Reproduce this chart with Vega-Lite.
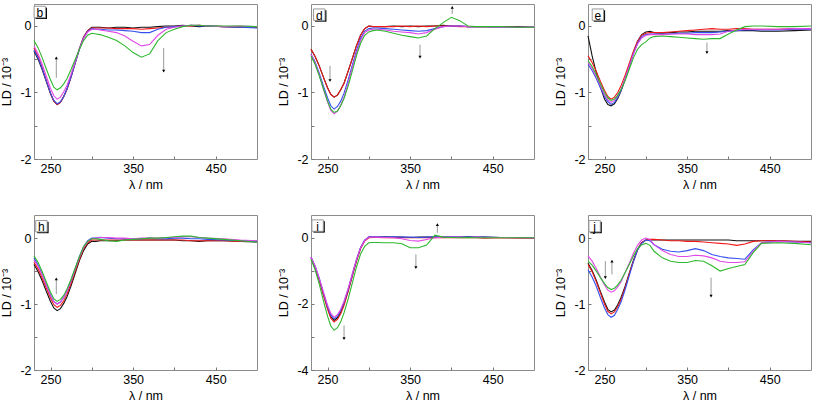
{
"$schema":"https://vega.github.io/schema/vega-lite/v6.json",
"padding":{"left":0,"top":3,"right":2,"bottom":0},
"background":"#ffffff",
"datasets":{
"spectra":[
{"p":"b","x":230,"k":-0.38,"r":-0.33,"u":-0.36,"m":-0.30,"g":-0.22},
{"p":"b","x":235,"k":-0.50,"r":-0.46,"u":-0.48,"m":-0.42,"g":-0.33},
{"p":"b","x":240,"k":-0.66,"r":-0.63,"u":-0.64,"m":-0.58,"g":-0.48},
{"p":"b","x":245,"k":-0.84,"r":-0.82,"u":-0.83,"m":-0.76,"g":-0.65},
{"p":"b","x":250,"k":-1.02,"r":-1.01,"u":-1.01,"m":-0.94,"g":-0.81},
{"p":"b","x":254,"k":-1.13,"r":-1.13,"u":-1.12,"m":-1.05,"g":-0.92},
{"p":"b","x":258,"k":-1.18,"r":-1.18,"u":-1.17,"m":-1.10,"g":-0.96},
{"p":"b","x":262,"k":-1.15,"r":-1.15,"u":-1.14,"m":-1.07,"g":-0.93},
{"p":"b","x":266,"k":-1.06,"r":-1.06,"u":-1.06,"m":-0.99,"g":-0.87},
{"p":"b","x":270,"k":-0.95,"r":-0.95,"u":-0.94,"m":-0.89,"g":-0.79},
{"p":"b","x":275,"k":-0.76,"r":-0.76,"u":-0.76,"m":-0.72,"g":-0.65},
{"p":"b","x":280,"k":-0.55,"r":-0.55,"u":-0.55,"m":-0.53,"g":-0.50},
{"p":"b","x":285,"k":-0.34,"r":-0.34,"u":-0.35,"m":-0.34,"g":-0.35},
{"p":"b","x":290,"k":-0.17,"r":-0.17,"u":-0.18,"m":-0.19,"g":-0.22},
{"p":"b","x":295,"k":-0.07,"r":-0.07,"u":-0.08,"m":-0.09,"g":-0.14},
{"p":"b","x":300,"k":-0.02,"r":-0.03,"u":-0.04,"m":-0.05,"g":-0.11},
{"p":"b","x":305,"k":-0.02,"r":-0.03,"u":-0.05,"m":-0.05,"g":-0.12},
{"p":"b","x":310,"k":-0.02,"r":-0.03,"u":-0.05,"m":-0.06,"g":-0.13},
{"p":"b","x":320,"k":-0.03,"r":-0.03,"u":-0.06,"m":-0.08,"g":-0.17},
{"p":"b","x":330,"k":-0.02,"r":-0.04,"u":-0.06,"m":-0.10,"g":-0.22},
{"p":"b","x":340,"k":-0.02,"r":-0.04,"u":-0.07,"m":-0.15,"g":-0.30},
{"p":"b","x":350,"k":-0.03,"r":-0.04,"u":-0.08,"m":-0.23,"g":-0.40},
{"p":"b","x":360,"k":-0.02,"r":-0.05,"u":-0.10,"m":-0.30,"g":-0.47},
{"p":"b","x":370,"k":-0.02,"r":-0.04,"u":-0.10,"m":-0.28,"g":-0.42},
{"p":"b","x":380,"k":-0.01,"r":-0.03,"u":-0.05,"m":-0.14,"g":-0.22},
{"p":"b","x":390,"k":0.00,"r":-0.02,"u":-0.02,"m":-0.05,"g":-0.10},
{"p":"b","x":400,"k":0.00,"r":-0.01,"u":-0.01,"m":-0.02,"g":-0.05},
{"p":"b","x":410,"k":0.01,"r":0.00,"u":0.00,"m":0.00,"g":-0.01},
{"p":"b","x":420,"k":0.00,"r":0.00,"u":0.01,"m":0.01,"g":0.01},
{"p":"b","x":430,"k":-0.01,"r":0.01,"u":0.00,"m":0.01,"g":0.01},
{"p":"b","x":440,"k":0.00,"r":0.00,"u":0.00,"m":0.00,"g":0.00},
{"p":"b","x":460,"k":-0.01,"r":-0.01,"u":-0.01,"m":-0.01,"g":0.00},
{"p":"b","x":480,"k":-0.02,"r":-0.01,"u":-0.02,"m":0.00,"g":0.00},
{"p":"b","x":500,"k":-0.02,"r":-0.02,"u":-0.03,"m":-0.01,"g":-0.01},

{"p":"d","x":230,"k":-0.35,"r":-0.35,"u":-0.42,"m":-0.43,"g":-0.45},
{"p":"d","x":235,"k":-0.46,"r":-0.46,"u":-0.54,"m":-0.56,"g":-0.58},
{"p":"d","x":240,"k":-0.60,"r":-0.60,"u":-0.71,"m":-0.74,"g":-0.75},
{"p":"d","x":245,"k":-0.77,"r":-0.77,"u":-0.90,"m":-0.95,"g":-0.94},
{"p":"d","x":250,"k":-0.93,"r":-0.93,"u":-1.08,"m":-1.14,"g":-1.13},
{"p":"d","x":254,"k":-1.03,"r":-1.03,"u":-1.20,"m":-1.27,"g":-1.25},
{"p":"d","x":258,"k":-1.07,"r":-1.07,"u":-1.25,"m":-1.32,"g":-1.30},
{"p":"d","x":262,"k":-1.04,"r":-1.04,"u":-1.21,"m":-1.28,"g":-1.28},
{"p":"d","x":266,"k":-0.96,"r":-0.96,"u":-1.13,"m":-1.19,"g":-1.20},
{"p":"d","x":270,"k":-0.86,"r":-0.86,"u":-1.01,"m":-1.07,"g":-1.09},
{"p":"d","x":275,"k":-0.68,"r":-0.68,"u":-0.81,"m":-0.86,"g":-0.90},
{"p":"d","x":280,"k":-0.49,"r":-0.49,"u":-0.59,"m":-0.63,"g":-0.68},
{"p":"d","x":285,"k":-0.30,"r":-0.30,"u":-0.37,"m":-0.41,"g":-0.45},
{"p":"d","x":290,"k":-0.14,"r":-0.14,"u":-0.19,"m":-0.22,"g":-0.26},
{"p":"d","x":295,"k":-0.04,"r":-0.04,"u":-0.08,"m":-0.10,"g":-0.14},
{"p":"d","x":300,"k":0.00,"r":0.00,"u":-0.04,"m":-0.06,"g":-0.09},
{"p":"d","x":305,"k":-0.01,"r":-0.01,"u":-0.03,"m":-0.05,"g":-0.07},
{"p":"d","x":310,"k":-0.01,"r":-0.01,"u":-0.03,"m":-0.05,"g":-0.06},
{"p":"d","x":320,"k":-0.01,"r":-0.01,"u":-0.04,"m":-0.06,"g":-0.08},
{"p":"d","x":330,"k":0.00,"r":-0.01,"u":-0.05,"m":-0.08,"g":-0.11},
{"p":"d","x":340,"k":-0.01,"r":0.00,"u":-0.06,"m":-0.09,"g":-0.14},
{"p":"d","x":350,"k":0.00,"r":-0.01,"u":-0.07,"m":-0.10,"g":-0.16},
{"p":"d","x":360,"k":-0.01,"r":0.00,"u":-0.08,"m":-0.12,"g":-0.18},
{"p":"d","x":370,"k":0.00,"r":-0.01,"u":-0.07,"m":-0.10,"g":-0.15},
{"p":"d","x":380,"k":0.00,"r":0.00,"u":-0.04,"m":-0.05,"g":-0.04},
{"p":"d","x":390,"k":0.01,"r":0.00,"u":-0.01,"m":-0.01,"g":0.05},
{"p":"d","x":400,"k":0.00,"r":0.00,"u":0.00,"m":0.00,"g":0.13},
{"p":"d","x":410,"k":0.00,"r":-0.01,"u":0.00,"m":0.00,"g":0.08},
{"p":"d","x":420,"k":-0.01,"r":-0.01,"u":-0.01,"m":-0.01,"g":0.00},
{"p":"d","x":430,"k":-0.01,"r":-0.01,"u":-0.01,"m":-0.01,"g":-0.01},
{"p":"d","x":440,"k":-0.01,"r":-0.01,"u":-0.01,"m":-0.01,"g":-0.01},
{"p":"d","x":460,"k":-0.01,"r":-0.01,"u":-0.02,"m":-0.02,"g":-0.01},
{"p":"d","x":480,"k":-0.01,"r":-0.02,"u":-0.02,"m":-0.02,"g":-0.02},
{"p":"d","x":500,"k":-0.02,"r":-0.02,"u":-0.02,"m":-0.02,"g":-0.02},

{"p":"e","x":230,"k":-0.15,"r":-0.45,"u":-0.58,"m":-0.55,"g":-0.52},
{"p":"e","x":235,"k":-0.45,"r":-0.55,"u":-0.67,"m":-0.64,"g":-0.61},
{"p":"e","x":240,"k":-0.70,"r":-0.68,"u":-0.79,"m":-0.76,"g":-0.73},
{"p":"e","x":245,"k":-0.92,"r":-0.83,"u":-0.93,"m":-0.90,"g":-0.87},
{"p":"e","x":250,"k":-1.10,"r":-0.97,"u":-1.06,"m":-1.03,"g":-1.00},
{"p":"e","x":254,"k":-1.18,"r":-1.06,"u":-1.14,"m":-1.11,"g":-1.08},
{"p":"e","x":258,"k":-1.20,"r":-1.10,"u":-1.18,"m":-1.15,"g":-1.12},
{"p":"e","x":262,"k":-1.17,"r":-1.07,"u":-1.15,"m":-1.12,"g":-1.10},
{"p":"e","x":266,"k":-1.09,"r":-1.00,"u":-1.07,"m":-1.05,"g":-1.04},
{"p":"e","x":270,"k":-0.98,"r":-0.90,"u":-0.97,"m":-0.95,"g":-0.96},
{"p":"e","x":275,"k":-0.80,"r":-0.74,"u":-0.80,"m":-0.79,"g":-0.82},
{"p":"e","x":280,"k":-0.60,"r":-0.56,"u":-0.61,"m":-0.60,"g":-0.65},
{"p":"e","x":285,"k":-0.40,"r":-0.38,"u":-0.42,"m":-0.42,"g":-0.48},
{"p":"e","x":290,"k":-0.23,"r":-0.23,"u":-0.26,"m":-0.27,"g":-0.35},
{"p":"e","x":295,"k":-0.13,"r":-0.14,"u":-0.16,"m":-0.18,"g":-0.28},
{"p":"e","x":300,"k":-0.09,"r":-0.11,"u":-0.13,"m":-0.14,"g":-0.24},
{"p":"e","x":305,"k":-0.08,"r":-0.10,"u":-0.12,"m":-0.13,"g":-0.18},
{"p":"e","x":310,"k":-0.10,"r":-0.10,"u":-0.12,"m":-0.13,"g":-0.16},
{"p":"e","x":320,"k":-0.11,"r":-0.10,"u":-0.12,"m":-0.13,"g":-0.15},
{"p":"e","x":330,"k":-0.10,"r":-0.09,"u":-0.12,"m":-0.12,"g":-0.16},
{"p":"e","x":340,"k":-0.09,"r":-0.08,"u":-0.11,"m":-0.12,"g":-0.17},
{"p":"e","x":350,"k":-0.09,"r":-0.07,"u":-0.11,"m":-0.12,"g":-0.18},
{"p":"e","x":360,"k":-0.08,"r":-0.06,"u":-0.10,"m":-0.13,"g":-0.19},
{"p":"e","x":370,"k":-0.08,"r":-0.05,"u":-0.10,"m":-0.13,"g":-0.20},
{"p":"e","x":380,"k":-0.08,"r":-0.04,"u":-0.10,"m":-0.13,"g":-0.19},
{"p":"e","x":390,"k":-0.08,"r":-0.05,"u":-0.09,"m":-0.12,"g":-0.19},
{"p":"e","x":400,"k":-0.07,"r":-0.05,"u":-0.08,"m":-0.08,"g":-0.12},
{"p":"e","x":410,"k":-0.07,"r":-0.04,"u":-0.07,"m":-0.06,"g":-0.06},
{"p":"e","x":420,"k":-0.07,"r":-0.04,"u":-0.06,"m":-0.05,"g":-0.01},
{"p":"e","x":430,"k":-0.07,"r":-0.05,"u":-0.06,"m":-0.05,"g":0.00},
{"p":"e","x":440,"k":-0.08,"r":-0.05,"u":-0.06,"m":-0.05,"g":0.00},
{"p":"e","x":460,"k":-0.08,"r":-0.05,"u":-0.06,"m":-0.05,"g":-0.01},
{"p":"e","x":480,"k":-0.07,"r":-0.04,"u":-0.05,"m":-0.04,"g":-0.01},
{"p":"e","x":500,"k":-0.06,"r":-0.04,"u":-0.05,"m":-0.04,"g":0.00},

{"p":"h","x":230,"k":-0.40,"r":-0.37,"u":-0.30,"m":-0.33,"g":-0.27},
{"p":"h","x":235,"k":-0.51,"r":-0.47,"u":-0.41,"m":-0.43,"g":-0.37},
{"p":"h","x":240,"k":-0.65,"r":-0.61,"u":-0.55,"m":-0.56,"g":-0.51},
{"p":"h","x":245,"k":-0.81,"r":-0.76,"u":-0.71,"m":-0.72,"g":-0.67},
{"p":"h","x":250,"k":-0.96,"r":-0.91,"u":-0.86,"m":-0.87,"g":-0.82},
{"p":"h","x":254,"k":-1.06,"r":-1.01,"u":-0.96,"m":-0.96,"g":-0.92},
{"p":"h","x":258,"k":-1.10,"r":-1.05,"u":-1.00,"m":-1.00,"g":-0.96},
{"p":"h","x":262,"k":-1.07,"r":-1.02,"u":-0.97,"m":-0.97,"g":-0.93},
{"p":"h","x":266,"k":-0.99,"r":-0.95,"u":-0.90,"m":-0.90,"g":-0.87},
{"p":"h","x":270,"k":-0.89,"r":-0.85,"u":-0.80,"m":-0.80,"g":-0.77},
{"p":"h","x":275,"k":-0.72,"r":-0.68,"u":-0.64,"m":-0.64,"g":-0.62},
{"p":"h","x":280,"k":-0.53,"r":-0.50,"u":-0.46,"m":-0.46,"g":-0.45},
{"p":"h","x":285,"k":-0.34,"r":-0.32,"u":-0.28,"m":-0.29,"g":-0.28},
{"p":"h","x":290,"k":-0.19,"r":-0.16,"u":-0.13,"m":-0.14,"g":-0.13},
{"p":"h","x":295,"k":-0.09,"r":-0.07,"u":-0.04,"m":-0.05,"g":-0.05},
{"p":"h","x":300,"k":-0.05,"r":-0.03,"u":0.00,"m":-0.01,"g":-0.01},
{"p":"h","x":305,"k":-0.05,"r":-0.03,"u":0.00,"m":0.00,"g":-0.01},
{"p":"h","x":310,"k":-0.04,"r":-0.03,"u":0.01,"m":0.01,"g":-0.02},
{"p":"h","x":320,"k":-0.04,"r":-0.03,"u":0.00,"m":0.01,"g":-0.04},
{"p":"h","x":330,"k":-0.04,"r":-0.03,"u":-0.01,"m":0.00,"g":-0.05},
{"p":"h","x":340,"k":-0.03,"r":-0.03,"u":-0.01,"m":0.00,"g":-0.03},
{"p":"h","x":350,"k":-0.03,"r":-0.03,"u":-0.01,"m":-0.01,"g":-0.02},
{"p":"h","x":360,"k":-0.03,"r":-0.03,"u":-0.01,"m":0.00,"g":-0.01},
{"p":"h","x":370,"k":-0.03,"r":-0.03,"u":0.00,"m":0.00,"g":0.00},
{"p":"h","x":380,"k":-0.03,"r":-0.03,"u":-0.01,"m":0.00,"g":0.00},
{"p":"h","x":390,"k":-0.03,"r":-0.03,"u":-0.01,"m":0.01,"g":0.01},
{"p":"h","x":400,"k":-0.03,"r":-0.03,"u":0.00,"m":0.01,"g":0.02},
{"p":"h","x":410,"k":-0.04,"r":-0.03,"u":0.00,"m":0.02,"g":0.03},
{"p":"h","x":420,"k":-0.04,"r":-0.04,"u":-0.01,"m":0.02,"g":0.03},
{"p":"h","x":430,"k":-0.05,"r":-0.04,"u":-0.01,"m":0.01,"g":0.01},
{"p":"h","x":440,"k":-0.04,"r":-0.04,"u":-0.02,"m":0.00,"g":0.00},
{"p":"h","x":460,"k":-0.04,"r":-0.04,"u":-0.03,"m":-0.01,"g":-0.02},
{"p":"h","x":480,"k":-0.05,"r":-0.05,"u":-0.04,"m":-0.03,"g":-0.04},
{"p":"h","x":500,"k":-0.06,"r":-0.05,"u":-0.05,"m":-0.04,"g":-0.06},

{"p":"i","x":230,"k":-0.60,"r":-0.60,"u":-0.58,"m":-0.58,"g":-0.65},
{"p":"i","x":235,"k":-0.89,"r":-0.89,"u":-0.86,"m":-0.85,"g":-0.97},
{"p":"i","x":240,"k":-1.27,"r":-1.28,"u":-1.23,"m":-1.22,"g":-1.40},
{"p":"i","x":245,"k":-1.70,"r":-1.73,"u":-1.66,"m":-1.64,"g":-1.90},
{"p":"i","x":250,"k":-2.12,"r":-2.16,"u":-2.08,"m":-2.04,"g":-2.37},
{"p":"i","x":254,"k":-2.39,"r":-2.43,"u":-2.34,"m":-2.29,"g":-2.67},
{"p":"i","x":258,"k":-2.50,"r":-2.55,"u":-2.45,"m":-2.40,"g":-2.80},
{"p":"i","x":262,"k":-2.42,"r":-2.47,"u":-2.38,"m":-2.33,"g":-2.72},
{"p":"i","x":266,"k":-2.25,"r":-2.30,"u":-2.20,"m":-2.16,"g":-2.54},
{"p":"i","x":270,"k":-1.99,"r":-2.04,"u":-1.95,"m":-1.92,"g":-2.27},
{"p":"i","x":275,"k":-1.59,"r":-1.63,"u":-1.56,"m":-1.53,"g":-1.85},
{"p":"i","x":280,"k":-1.14,"r":-1.17,"u":-1.11,"m":-1.09,"g":-1.37},
{"p":"i","x":285,"k":-0.69,"r":-0.71,"u":-0.66,"m":-0.66,"g":-0.89},
{"p":"i","x":290,"k":-0.31,"r":-0.33,"u":-0.29,"m":-0.30,"g":-0.49},
{"p":"i","x":295,"k":-0.08,"r":-0.10,"u":-0.07,"m":-0.08,"g":-0.26},
{"p":"i","x":300,"k":0.02,"r":0.00,"u":0.03,"m":0.02,"g":-0.15},
{"p":"i","x":305,"k":0.03,"r":0.01,"u":0.03,"m":0.02,"g":-0.14},
{"p":"i","x":310,"k":0.02,"r":0.01,"u":0.03,"m":0.02,"g":-0.14},
{"p":"i","x":320,"k":0.03,"r":0.00,"u":0.02,"m":0.01,"g":-0.15},
{"p":"i","x":330,"k":0.02,"r":0.01,"u":0.03,"m":0.00,"g":-0.15},
{"p":"i","x":340,"k":0.02,"r":0.00,"u":0.02,"m":-0.03,"g":-0.18},
{"p":"i","x":350,"k":0.01,"r":0.00,"u":0.02,"m":-0.08,"g":-0.30},
{"p":"i","x":360,"k":0.02,"r":0.01,"u":0.01,"m":-0.10,"g":-0.30},
{"p":"i","x":370,"k":0.02,"r":0.00,"u":0.02,"m":-0.05,"g":-0.22},
{"p":"i","x":380,"k":0.02,"r":0.01,"u":0.03,"m":0.00,"g":0.08},
{"p":"i","x":390,"k":0.03,"r":0.00,"u":0.02,"m":0.02,"g":0.02},
{"p":"i","x":400,"k":0.02,"r":0.01,"u":0.03,"m":0.02,"g":0.01},
{"p":"i","x":410,"k":0.02,"r":0.00,"u":0.02,"m":0.02,"g":0.00},
{"p":"i","x":420,"k":0.03,"r":0.01,"u":0.02,"m":0.01,"g":0.01},
{"p":"i","x":430,"k":0.02,"r":0.00,"u":0.02,"m":0.02,"g":0.00},
{"p":"i","x":440,"k":0.02,"r":-0.01,"u":0.02,"m":0.01,"g":0.00},
{"p":"i","x":460,"k":0.01,"r":0.00,"u":0.01,"m":0.01,"g":0.00},
{"p":"i","x":480,"k":0.01,"r":-0.01,"u":0.01,"m":0.00,"g":0.00},
{"p":"i","x":500,"k":0.00,"r":-0.01,"u":0.00,"m":0.00,"g":0.00},

{"p":"j","x":230,"k":-0.38,"r":-0.40,"u":-0.48,"m":-0.27,"g":-0.35},
{"p":"j","x":235,"k":-0.49,"r":-0.51,"u":-0.59,"m":-0.35,"g":-0.41},
{"p":"j","x":240,"k":-0.64,"r":-0.66,"u":-0.73,"m":-0.46,"g":-0.50},
{"p":"j","x":245,"k":-0.81,"r":-0.83,"u":-0.90,"m":-0.59,"g":-0.60},
{"p":"j","x":250,"k":-0.97,"r":-1.00,"u":-1.06,"m":-0.71,"g":-0.69},
{"p":"j","x":254,"k":-1.08,"r":-1.11,"u":-1.16,"m":-0.79,"g":-0.75},
{"p":"j","x":258,"k":-1.12,"r":-1.15,"u":-1.20,"m":-0.82,"g":-0.78},
{"p":"j","x":262,"k":-1.09,"r":-1.12,"u":-1.17,"m":-0.80,"g":-0.76},
{"p":"j","x":266,"k":-1.01,"r":-1.04,"u":-1.08,"m":-0.74,"g":-0.71},
{"p":"j","x":270,"k":-0.90,"r":-0.93,"u":-0.97,"m":-0.66,"g":-0.64},
{"p":"j","x":275,"k":-0.73,"r":-0.75,"u":-0.78,"m":-0.52,"g":-0.52},
{"p":"j","x":280,"k":-0.53,"r":-0.54,"u":-0.57,"m":-0.38,"g":-0.40},
{"p":"j","x":285,"k":-0.34,"r":-0.35,"u":-0.36,"m":-0.23,"g":-0.27},
{"p":"j","x":290,"k":-0.17,"r":-0.18,"u":-0.18,"m":-0.11,"g":-0.16},
{"p":"j","x":295,"k":-0.07,"r":-0.07,"u":-0.08,"m":-0.03,"g":-0.10},
{"p":"j","x":300,"k":-0.03,"r":-0.03,"u":-0.03,"m":0.00,"g":-0.08},
{"p":"j","x":305,"k":-0.03,"r":-0.02,"u":-0.04,"m":-0.02,"g":-0.11},
{"p":"j","x":310,"k":-0.03,"r":-0.02,"u":-0.10,"m":-0.10,"g":-0.20},
{"p":"j","x":320,"k":-0.03,"r":-0.03,"u":-0.17,"m":-0.19,"g":-0.30},
{"p":"j","x":330,"k":-0.03,"r":-0.04,"u":-0.20,"m":-0.25,"g":-0.35},
{"p":"j","x":340,"k":-0.03,"r":-0.04,"u":-0.21,"m":-0.28,"g":-0.37},
{"p":"j","x":350,"k":-0.03,"r":-0.05,"u":-0.19,"m":-0.28,"g":-0.37},
{"p":"j","x":360,"k":-0.03,"r":-0.05,"u":-0.16,"m":-0.26,"g":-0.34},
{"p":"j","x":370,"k":-0.03,"r":-0.06,"u":-0.19,"m":-0.27,"g":-0.35},
{"p":"j","x":380,"k":-0.03,"r":-0.07,"u":-0.25,"m":-0.30,"g":-0.42},
{"p":"j","x":390,"k":-0.03,"r":-0.08,"u":-0.28,"m":-0.35,"g":-0.50},
{"p":"j","x":400,"k":-0.03,"r":-0.09,"u":-0.30,"m":-0.37,"g":-0.46},
{"p":"j","x":410,"k":-0.04,"r":-0.11,"u":-0.31,"m":-0.37,"g":-0.43},
{"p":"j","x":420,"k":-0.04,"r":-0.09,"u":-0.32,"m":-0.36,"g":-0.40},
{"p":"j","x":430,"k":-0.04,"r":-0.05,"u":-0.18,"m":-0.20,"g":-0.22},
{"p":"j","x":440,"k":-0.04,"r":-0.04,"u":-0.07,"m":-0.07,"g":-0.08},
{"p":"j","x":460,"k":-0.04,"r":-0.04,"u":-0.05,"m":-0.05,"g":-0.07},
{"p":"j","x":480,"k":-0.05,"r":-0.05,"u":-0.06,"m":-0.06,"g":-0.08},
{"p":"j","x":500,"k":-0.05,"r":-0.06,"u":-0.07,"m":-0.07,"g":-0.10}
],
"arrows":[
{"p":"b","x":257,"v":-0.48,"v2":-0.78,"d":"up"},
{"p":"b","x":387,"v":-0.68,"v2":-0.33,"d":"down"},
{"p":"d","x":253,"v":-0.82,"v2":-0.6,"d":"down"},
{"p":"d","x":362,"v":-0.47,"v2":-0.28,"d":"down"},
{"p":"d","x":401,"v":0.28,"v2":0.18,"d":"up"},
{"p":"e","x":374,"v":-0.4,"v2":-0.25,"d":"down"},
{"p":"h","x":257,"v":-0.62,"v2":-0.85,"d":"up"},
{"p":"i","x":270,"v":-3.05,"v2":-2.65,"d":"down"},
{"p":"i","x":357,"v":-0.9,"v2":-0.5,"d":"down"},
{"p":"i","x":383,"v":0.4,"v2":0.15,"d":"up"},
{"p":"j","x":251,"v":-0.6,"v2":-0.35,"d":"down"},
{"p":"j","x":259,"v":-0.35,"v2":-0.55,"d":"up"},
{"p":"j","x":379,"v":-0.88,"v2":-0.6,"d":"down"}
],
"tags":[
{"p":"b","x":238.8,"v":0.19,"k":"s","t":"b"},
{"p":"b","x":237,"v":0.21,"k":"b","t":"b"},
{"p":"d","x":241.8,"v":0.15,"k":"s","t":"d"},
{"p":"d","x":240,"v":0.17,"k":"b","t":"d"},
{"p":"e","x":243.8,"v":0.15,"k":"s","t":"e"},
{"p":"e","x":242,"v":0.17,"k":"b","t":"e"},
{"p":"h","x":240.8,"v":0.16,"k":"s","t":"h"},
{"p":"h","x":239,"v":0.18,"k":"b","t":"h"},
{"p":"i","x":239.8,"v":0.33,"k":"s","t":"i"},
{"p":"i","x":238,"v":0.37,"k":"b","t":"i"},
{"p":"j","x":239.8,"v":0.16,"k":"s","t":"j"},
{"p":"j","x":238,"v":0.18,"k":"b","t":"j"}
]
},
"columns":3,
"spacing":{"row":22,"column":17},
"resolve":{"scale":{"x":"independent","y":"independent"}},
"concat":[
{"width":223,"height":155,
 "encoding":{
  "x":{"field":"x","type":"quantitative","scale":{"domain":[230,500],"nice":false,"zero":false},"axis":{"title":"λ / nm","values":[250,300,350,400,450],"labelExpr":"datum.value % 100 == 50 ? '' + datum.value : ''"}},
  "y":{"field":"v","type":"quantitative","scale":{"domain":[-2,0.33],"nice":false,"zero":false},"axis":{"title":"LD / 10⁻³","values":[-2,-1.5,-1,-0.5,0],"labelExpr":"datum.value % 1 == 0 ? '' + datum.value : ''"}}},
 "layer":[
  {"data":{"name":"spectra"},"transform":[{"filter":"datum.p == 'b'"},{"fold":["k","r","u","m","g"],"as":["s","v"]}],"mark":{"type":"line","strokeWidth":1.1},"encoding":{"color":{"field":"s","type":"nominal","scale":{"domain":["k","r","u","m","g"],"range":["#111111","#f01818","#3550ee","#e048e8","#2eb82e"]},"legend":null}}},
  {"data":{"name":"arrows"},"transform":[{"filter":"datum.p == 'b'"}],"mark":{"type":"rule","color":"#9a9a9a","strokeWidth":1},"encoding":{"y2":{"field":"v2"}}},
  {"data":{"name":"arrows"},"transform":[{"filter":"datum.p == 'b'"}],"mark":{"type":"point","filled":true,"color":"#000000","size":10,"opacity":1},"encoding":{"shape":{"field":"d","type":"nominal","scale":{"domain":["up","down"],"range":["triangle-up","triangle-down"]},"legend":null}}},
  {"data":{"name":"tags"},"transform":[{"filter":"datum.p == 'b' && datum.k == 's'"}],"mark":{"type":"point","shape":"square","filled":true,"color":"#000000","size":130,"opacity":1}},
  {"data":{"name":"tags"},"transform":[{"filter":"datum.p == 'b' && datum.k == 'b'"}],"mark":{"type":"point","shape":"square","filled":true,"fill":"#ffffff","stroke":"#999999","strokeWidth":1,"size":130,"opacity":1}},
  {"data":{"name":"tags"},"transform":[{"filter":"datum.p == 'b' && datum.k == 'b'"}],"mark":{"type":"text","font":"Liberation Sans","fontSize":12,"color":"#000000","dy":1},"encoding":{"text":{"field":"t"}}}
 ]},
{"width":223,"height":155,
 "encoding":{
  "x":{"field":"x","type":"quantitative","scale":{"domain":[230,500],"nice":false,"zero":false},"axis":{"title":"λ / nm","values":[250,300,350,400,450],"labelExpr":"datum.value % 100 == 50 ? '' + datum.value : ''"}},
  "y":{"field":"v","type":"quantitative","scale":{"domain":[-2,0.33],"nice":false,"zero":false},"axis":{"title":"LD / 10⁻³","values":[-2,-1.5,-1,-0.5,0],"labelExpr":"datum.value % 1 == 0 ? '' + datum.value : ''"}}},
 "layer":[
  {"data":{"name":"spectra"},"transform":[{"filter":"datum.p == 'd'"},{"fold":["k","r","u","m","g"],"as":["s","v"]}],"mark":{"type":"line","strokeWidth":1.1},"encoding":{"color":{"field":"s","type":"nominal","scale":{"domain":["k","r","u","m","g"],"range":["#111111","#f01818","#3550ee","#e048e8","#2eb82e"]},"legend":null}}},
  {"data":{"name":"arrows"},"transform":[{"filter":"datum.p == 'd'"}],"mark":{"type":"rule","color":"#9a9a9a","strokeWidth":1},"encoding":{"y2":{"field":"v2"}}},
  {"data":{"name":"arrows"},"transform":[{"filter":"datum.p == 'd'"}],"mark":{"type":"point","filled":true,"color":"#000000","size":10,"opacity":1},"encoding":{"shape":{"field":"d","type":"nominal","scale":{"domain":["up","down"],"range":["triangle-up","triangle-down"]},"legend":null}}},
  {"data":{"name":"tags"},"transform":[{"filter":"datum.p == 'd' && datum.k == 's'"}],"mark":{"type":"point","shape":"square","filled":true,"color":"#000000","size":130,"opacity":1}},
  {"data":{"name":"tags"},"transform":[{"filter":"datum.p == 'd' && datum.k == 'b'"}],"mark":{"type":"point","shape":"square","filled":true,"fill":"#ffffff","stroke":"#999999","strokeWidth":1,"size":130,"opacity":1}},
  {"data":{"name":"tags"},"transform":[{"filter":"datum.p == 'd' && datum.k == 'b'"}],"mark":{"type":"text","font":"Liberation Sans","fontSize":12,"color":"#000000","dy":1},"encoding":{"text":{"field":"t"}}}
 ]},
{"width":223,"height":155,
 "encoding":{
  "x":{"field":"x","type":"quantitative","scale":{"domain":[230,500],"nice":false,"zero":false},"axis":{"title":"λ / nm","values":[250,300,350,400,450],"labelExpr":"datum.value % 100 == 50 ? '' + datum.value : ''"}},
  "y":{"field":"v","type":"quantitative","scale":{"domain":[-2,0.33],"nice":false,"zero":false},"axis":{"title":"LD / 10⁻³","values":[-2,-1.5,-1,-0.5,0],"labelExpr":"datum.value % 1 == 0 ? '' + datum.value : ''"}}},
 "layer":[
  {"data":{"name":"spectra"},"transform":[{"filter":"datum.p == 'e'"},{"fold":["k","r","u","m","g"],"as":["s","v"]}],"mark":{"type":"line","strokeWidth":1.1},"encoding":{"color":{"field":"s","type":"nominal","scale":{"domain":["k","r","u","m","g"],"range":["#111111","#f01818","#3550ee","#e048e8","#2eb82e"]},"legend":null}}},
  {"data":{"name":"arrows"},"transform":[{"filter":"datum.p == 'e'"}],"mark":{"type":"rule","color":"#9a9a9a","strokeWidth":1},"encoding":{"y2":{"field":"v2"}}},
  {"data":{"name":"arrows"},"transform":[{"filter":"datum.p == 'e'"}],"mark":{"type":"point","filled":true,"color":"#000000","size":10,"opacity":1},"encoding":{"shape":{"field":"d","type":"nominal","scale":{"domain":["up","down"],"range":["triangle-up","triangle-down"]},"legend":null}}},
  {"data":{"name":"tags"},"transform":[{"filter":"datum.p == 'e' && datum.k == 's'"}],"mark":{"type":"point","shape":"square","filled":true,"color":"#000000","size":130,"opacity":1}},
  {"data":{"name":"tags"},"transform":[{"filter":"datum.p == 'e' && datum.k == 'b'"}],"mark":{"type":"point","shape":"square","filled":true,"fill":"#ffffff","stroke":"#999999","strokeWidth":1,"size":130,"opacity":1}},
  {"data":{"name":"tags"},"transform":[{"filter":"datum.p == 'e' && datum.k == 'b'"}],"mark":{"type":"text","font":"Liberation Sans","fontSize":12,"color":"#000000","dy":1},"encoding":{"text":{"field":"t"}}}
 ]},
{"width":223,"height":155,
 "encoding":{
  "x":{"field":"x","type":"quantitative","scale":{"domain":[230,500],"nice":false,"zero":false},"axis":{"title":"λ / nm","values":[250,300,350,400,450],"labelExpr":"datum.value % 100 == 50 ? '' + datum.value : ''"}},
  "y":{"field":"v","type":"quantitative","scale":{"domain":[-2,0.35],"nice":false,"zero":false},"axis":{"title":"LD / 10⁻³","values":[-2,-1.5,-1,-0.5,0],"labelExpr":"datum.value % 1 == 0 ? '' + datum.value : ''"}}},
 "layer":[
  {"data":{"name":"spectra"},"transform":[{"filter":"datum.p == 'h'"},{"fold":["k","r","u","m","g"],"as":["s","v"]}],"mark":{"type":"line","strokeWidth":1.1},"encoding":{"color":{"field":"s","type":"nominal","scale":{"domain":["k","r","u","m","g"],"range":["#111111","#f01818","#3550ee","#e048e8","#2eb82e"]},"legend":null}}},
  {"data":{"name":"arrows"},"transform":[{"filter":"datum.p == 'h'"}],"mark":{"type":"rule","color":"#9a9a9a","strokeWidth":1},"encoding":{"y2":{"field":"v2"}}},
  {"data":{"name":"arrows"},"transform":[{"filter":"datum.p == 'h'"}],"mark":{"type":"point","filled":true,"color":"#000000","size":10,"opacity":1},"encoding":{"shape":{"field":"d","type":"nominal","scale":{"domain":["up","down"],"range":["triangle-up","triangle-down"]},"legend":null}}},
  {"data":{"name":"tags"},"transform":[{"filter":"datum.p == 'h' && datum.k == 's'"}],"mark":{"type":"point","shape":"square","filled":true,"color":"#000000","size":130,"opacity":1}},
  {"data":{"name":"tags"},"transform":[{"filter":"datum.p == 'h' && datum.k == 'b'"}],"mark":{"type":"point","shape":"square","filled":true,"fill":"#ffffff","stroke":"#999999","strokeWidth":1,"size":130,"opacity":1}},
  {"data":{"name":"tags"},"transform":[{"filter":"datum.p == 'h' && datum.k == 'b'"}],"mark":{"type":"text","font":"Liberation Sans","fontSize":12,"color":"#000000","dy":1},"encoding":{"text":{"field":"t"}}}
 ]},
{"width":223,"height":155,
 "encoding":{
  "x":{"field":"x","type":"quantitative","scale":{"domain":[230,500],"nice":false,"zero":false},"axis":{"title":"λ / nm","values":[250,300,350,400,450],"labelExpr":"datum.value % 100 == 50 ? '' + datum.value : ''"}},
  "y":{"field":"v","type":"quantitative","scale":{"domain":[-4,0.69],"nice":false,"zero":false},"axis":{"title":"LD / 10⁻³","values":[-4,-3,-2,-1,0],"labelExpr":"datum.value % 2 == 0 ? '' + datum.value : ''"}}},
 "layer":[
  {"data":{"name":"spectra"},"transform":[{"filter":"datum.p == 'i'"},{"fold":["k","r","u","m","g"],"as":["s","v"]}],"mark":{"type":"line","strokeWidth":1.1},"encoding":{"color":{"field":"s","type":"nominal","scale":{"domain":["k","r","u","m","g"],"range":["#111111","#f01818","#3550ee","#e048e8","#2eb82e"]},"legend":null}}},
  {"data":{"name":"arrows"},"transform":[{"filter":"datum.p == 'i'"}],"mark":{"type":"rule","color":"#9a9a9a","strokeWidth":1},"encoding":{"y2":{"field":"v2"}}},
  {"data":{"name":"arrows"},"transform":[{"filter":"datum.p == 'i'"}],"mark":{"type":"point","filled":true,"color":"#000000","size":10,"opacity":1},"encoding":{"shape":{"field":"d","type":"nominal","scale":{"domain":["up","down"],"range":["triangle-up","triangle-down"]},"legend":null}}},
  {"data":{"name":"tags"},"transform":[{"filter":"datum.p == 'i' && datum.k == 's'"}],"mark":{"type":"point","shape":"square","filled":true,"color":"#000000","size":130,"opacity":1}},
  {"data":{"name":"tags"},"transform":[{"filter":"datum.p == 'i' && datum.k == 'b'"}],"mark":{"type":"point","shape":"square","filled":true,"fill":"#ffffff","stroke":"#999999","strokeWidth":1,"size":130,"opacity":1}},
  {"data":{"name":"tags"},"transform":[{"filter":"datum.p == 'i' && datum.k == 'b'"}],"mark":{"type":"text","font":"Liberation Sans","fontSize":12,"color":"#000000","dy":1},"encoding":{"text":{"field":"t"}}}
 ]},
{"width":223,"height":155,
 "encoding":{
  "x":{"field":"x","type":"quantitative","scale":{"domain":[230,500],"nice":false,"zero":false},"axis":{"title":"λ / nm","values":[250,300,350,400,450],"labelExpr":"datum.value % 100 == 50 ? '' + datum.value : ''"}},
  "y":{"field":"v","type":"quantitative","scale":{"domain":[-2,0.35],"nice":false,"zero":false},"axis":{"title":"LD / 10⁻³","values":[-2,-1.5,-1,-0.5,0],"labelExpr":"datum.value % 1 == 0 ? '' + datum.value : ''"}}},
 "layer":[
  {"data":{"name":"spectra"},"transform":[{"filter":"datum.p == 'j'"},{"fold":["k","r","u","m","g"],"as":["s","v"]}],"mark":{"type":"line","strokeWidth":1.1},"encoding":{"color":{"field":"s","type":"nominal","scale":{"domain":["k","r","u","m","g"],"range":["#111111","#f01818","#3550ee","#e048e8","#2eb82e"]},"legend":null}}},
  {"data":{"name":"arrows"},"transform":[{"filter":"datum.p == 'j'"}],"mark":{"type":"rule","color":"#9a9a9a","strokeWidth":1},"encoding":{"y2":{"field":"v2"}}},
  {"data":{"name":"arrows"},"transform":[{"filter":"datum.p == 'j'"}],"mark":{"type":"point","filled":true,"color":"#000000","size":10,"opacity":1},"encoding":{"shape":{"field":"d","type":"nominal","scale":{"domain":["up","down"],"range":["triangle-up","triangle-down"]},"legend":null}}},
  {"data":{"name":"tags"},"transform":[{"filter":"datum.p == 'j' && datum.k == 's'"}],"mark":{"type":"point","shape":"square","filled":true,"color":"#000000","size":130,"opacity":1}},
  {"data":{"name":"tags"},"transform":[{"filter":"datum.p == 'j' && datum.k == 'b'"}],"mark":{"type":"point","shape":"square","filled":true,"fill":"#ffffff","stroke":"#999999","strokeWidth":1,"size":130,"opacity":1}},
  {"data":{"name":"tags"},"transform":[{"filter":"datum.p == 'j' && datum.k == 'b'"}],"mark":{"type":"text","font":"Liberation Sans","fontSize":12,"color":"#000000","dy":1},"encoding":{"text":{"field":"t"}}}
 ]}
],
"config":{
 "view":{"stroke":"#8c8c8c","strokeWidth":1},
 "axis":{"grid":false,"domain":false,"ticks":true,"tickSize":-3,"tickColor":"#777777","labelPadding":6,"labelFont":"Liberation Sans","labelFontSize":12.5,"labelColor":"#000000","titleFont":"Liberation Sans","titleFontSize":12.5,"titleFontWeight":"normal","titleColor":"#000000","titlePadding":4},
 "axisX":{"labelFlush":false},
 "axisY":{"titlePadding":6}
}
}
